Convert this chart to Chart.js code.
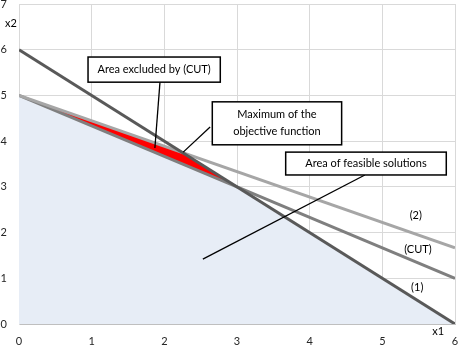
<!DOCTYPE html>
<html><head><meta charset="utf-8">
<script src="https://cdn.jsdelivr.net/npm/chart.js@4.4.1/dist/chart.umd.min.js"></script>
<style>html,body{margin:0;padding:0;background:#fff;overflow:hidden}#wrap{width:461px;height:355px}</style>
</head><body><div id="wrap"><canvas id="c" width="461" height="355"></canvas></div>
<script>
// ---- data ----
const xTicks = [0, 1, 2, 3, 4, 5, 6];
const yTicks = [0, 1, 2, 3, 4, 5, 6, 7];
const line1X = [0, 6];        const line1Y = [6, 0];        // (1)
const line2X = [0, 6];        const line2Y = [5, 1.667];    // (2)
const cutX   = [0, 6];        const cutY   = [5, 1];        // (CUT)
const feasX  = [0, 2.25, 6];  const feasY  = [5, 3.75, 0];  // feasible region boundary
const exclX  = [0, 2.25, 3];  const exclY  = [5, 3.75, 3];  // region excluded by CUT (upper edge)
const seriesNames = ['(2)', '(CUT)', '(1)'];
const axisNames = ['x1', 'x2'];
const noteTexts = [['Area excluded by (CUT)'], ['Maximum of the', 'objective function'], ['Area of feasible solutions']];

const pts = (xs, ys) => xs.map((x, i) => ({x: x, y: ys[i]}));

// ---- layout of annotations (data units) ----
const noteLayout = [
  {box: [0.95, 5.84, 2.77, 5.29], from: [1.94, 5.29], to: [1.87, 3.85]},
  {box: [2.66, 4.86, 4.44, 3.92], from: [2.63, 4.31], to: [2.26, 3.76]},
  {box: [3.67, 3.76, 5.88, 3.26], from: [4.76, 3.26], to: [2.53, 1.42]}
];
const seriesLabelPos = [[5.46, 2.38], [5.49, 1.64], [5.48, 0.79]];
const axisNamePos = [[5.77, -0.17], [-0.11, 6.58]];

const FONT = '11px Lato, "Open Sans", sans-serif';

const notesPlugin = {
  id: 'notes',
  afterDatasetsDraw(chart) {
    const ctx = chart.ctx, xs = chart.scales.x, ys = chart.scales.y;
    const px = v => xs.getPixelForValue(v), py = v => ys.getPixelForValue(v);
    ctx.save();
    ctx.font = FONT;
    ctx.textAlign = 'center';
    ctx.textBaseline = 'middle';
    noteLayout.forEach((n, i) => {
      ctx.strokeStyle = '#000';
      ctx.lineWidth = 1.3;
      ctx.beginPath();
      ctx.moveTo(px(n.from[0]), py(n.from[1]));
      ctx.lineTo(px(n.to[0]), py(n.to[1]));
      ctx.stroke();
      const l = px(n.box[0]), t = py(n.box[1]), r = px(n.box[2]), b = py(n.box[3]);
      ctx.fillStyle = '#fff';
      ctx.fillRect(l, t, r - l, b - t);
      ctx.lineWidth = 1.5;
      ctx.strokeStyle = '#000';
      ctx.strokeRect(l, t, r - l, b - t);
      ctx.fillStyle = '#000';
      const lines = noteTexts[i];
      const lh = 17;
      const cy = (t + b) / 2 - (lines.length - 1) * lh / 2;
      lines.forEach((s, k) => ctx.fillText(s, (l + r) / 2, cy + k * lh));
    });
    ctx.fillStyle = '#000';
    seriesNames.forEach((s, i) => ctx.fillText(s, px(seriesLabelPos[i][0]), py(seriesLabelPos[i][1])));
    axisNames.forEach((s, i) => ctx.fillText(s, px(axisNamePos[i][0]), py(axisNamePos[i][1])));
    ctx.restore();
  }
};

const base = {pointRadius: 0, pointHoverRadius: 0, tension: 0, showLine: true};

new Chart(document.getElementById('c'), {
  type: 'scatter',
  data: {
    datasets: [
      Object.assign({}, base, {data: pts(feasX, feasY), borderWidth: 0, borderColor: 'rgba(0,0,0,0)',
        backgroundColor: '#e7edf6', fill: 'origin', order: 10}),
      Object.assign({}, base, {data: pts(exclX, exclY), borderWidth: 0, borderColor: 'rgba(0,0,0,0)',
        backgroundColor: '#ff0000', fill: 2, order: 9}),
      Object.assign({}, base, {data: pts(cutX, cutY), borderWidth: 3, borderColor: '#7f7f7f', fill: false, order: 2}),
      Object.assign({}, base, {data: pts(line2X, line2Y), borderWidth: 3, borderColor: '#a6a6a6', fill: false, order: 1}),
      Object.assign({}, base, {data: pts(line1X, line1Y), borderWidth: 3, borderColor: '#595959', fill: false, order: 0})
    ]
  },
  options: {
    responsive: false,
    devicePixelRatio: 1,
    animation: false,
    events: [],
    layout: {padding: {top: 4, right: 6, left: 0, bottom: 0}},
    plugins: {legend: {display: false}, tooltip: {enabled: false}},
    scales: {
      x: {
        type: 'linear', min: 0, max: 6,
        afterBuildTicks: s => { s.ticks = xTicks.map(v => ({value: v})); },
        afterFit: s => { s.height = 31; s.paddingLeft = 0; s.paddingRight = 0; },
        grid: {color: '#d9d9d9', drawTicks: false},
        border: {color: '#bfbfbf'},
        ticks: {padding: 11, font: {family: 'Lato, "Open Sans", sans-serif', size: 11}, color: '#262626', maxRotation: 0}
      },
      y: {
        type: 'linear', min: 0, max: 7,
        afterBuildTicks: s => { s.ticks = yTicks.map(v => ({value: v})); },
        afterFit: s => { s.width = 19; s.paddingTop = 0; s.paddingBottom = 0; },
        grid: {color: '#d9d9d9', drawTicks: false},
        border: {color: '#d9d9d9'},
        ticks: {padding: 12, font: {family: 'Lato, "Open Sans", sans-serif', size: 11}, color: '#262626'}
      }
    }
  },
  plugins: [notesPlugin]
});
</script>
</body></html>
